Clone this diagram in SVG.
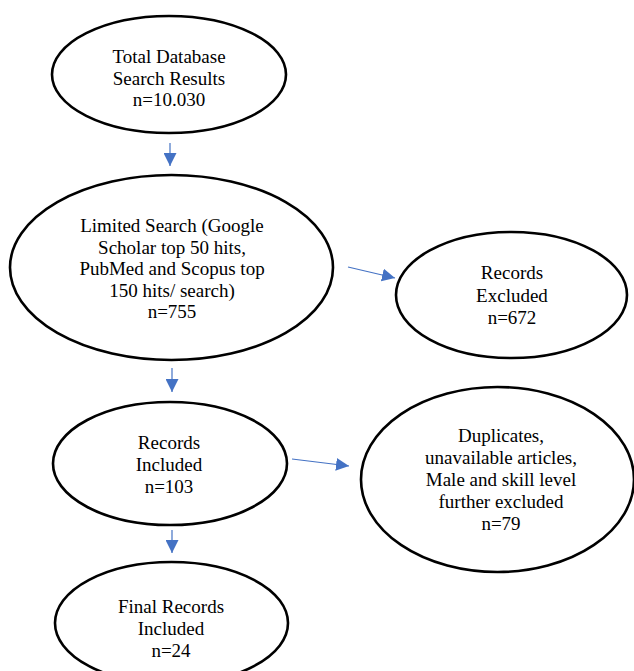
<svg xmlns="http://www.w3.org/2000/svg" width="634" height="671" viewBox="0 0 634 671">
<style>
.node ellipse{fill:#fff;stroke:#000;stroke-width:2.6}
.node text{font-family:"Liberation Serif","Times New Roman",serif;font-size:19px;fill:#000;text-anchor:middle}
.conn line{stroke:#4472C4;stroke-width:1.2;fill:none}
</style>
<defs>
<marker id="ah" markerUnits="userSpaceOnUse" markerWidth="14" markerHeight="13" refX="13" refY="6.5" orient="auto">
<path d="M0,0 L13,6.5 L0,13 z" fill="#4472C4"/>
</marker>
</defs>
<rect width="634" height="671" fill="#fff"/>
<g id="n1" class="node">
<ellipse cx="169" cy="74.5" rx="117" ry="58.5"/>
<text x="169" y="63">Total Database</text>
<text x="169" y="84.5">Search Results</text>
<text x="169" y="106">n=10.030</text>
</g>
<g id="n2" class="node">
<ellipse cx="171.5" cy="267.5" rx="161.5" ry="92.5"/>
<text x="172" y="232">Limited Search (Google</text>
<text x="172" y="253.5">Scholar top 50 hits,</text>
<text x="172" y="275">PubMed and Scopus top</text>
<text x="172" y="296.5">150 hits/ search)</text>
<text x="172" y="318">n=755</text>
</g>
<g id="n3" class="node">
<ellipse cx="511.5" cy="295" rx="115.5" ry="63"/>
<text x="512" y="279">Records</text>
<text x="512" y="301.5">Excluded</text>
<text x="512" y="324">n=672</text>
</g>
<g id="n4" class="node">
<ellipse cx="170" cy="463.5" rx="117" ry="61.5"/>
<text x="169" y="449">Records</text>
<text x="169" y="470.5">Included</text>
<text x="169" y="493">n=103</text>
</g>
<g id="n5" class="node">
<ellipse cx="497.5" cy="479.5" rx="136.5" ry="92.5"/>
<text x="501" y="442">Duplicates,</text>
<text x="501" y="464">unavailable articles,</text>
<text x="501" y="486">Male and skill level</text>
<text x="501" y="508">further excluded</text>
<text x="501" y="530">n=79</text>
</g>
<g id="n6" class="node">
<ellipse cx="171.5" cy="623" rx="116.5" ry="61"/>
<text x="171" y="613">Final Records</text>
<text x="171" y="635">Included</text>
<text x="171" y="657">n=24</text>
</g>
<g id="connectors" class="conn">
<line x1="170" y1="143" x2="170" y2="166" marker-end="url(#ah)"/>
<line x1="348" y1="267" x2="395" y2="278" marker-end="url(#ah)"/>
<line x1="172" y1="368" x2="172" y2="392" marker-end="url(#ah)"/>
<line x1="292" y1="459" x2="349" y2="466" marker-end="url(#ah)"/>
<line x1="172" y1="530" x2="172" y2="553" marker-end="url(#ah)"/>
</g>
</svg>
